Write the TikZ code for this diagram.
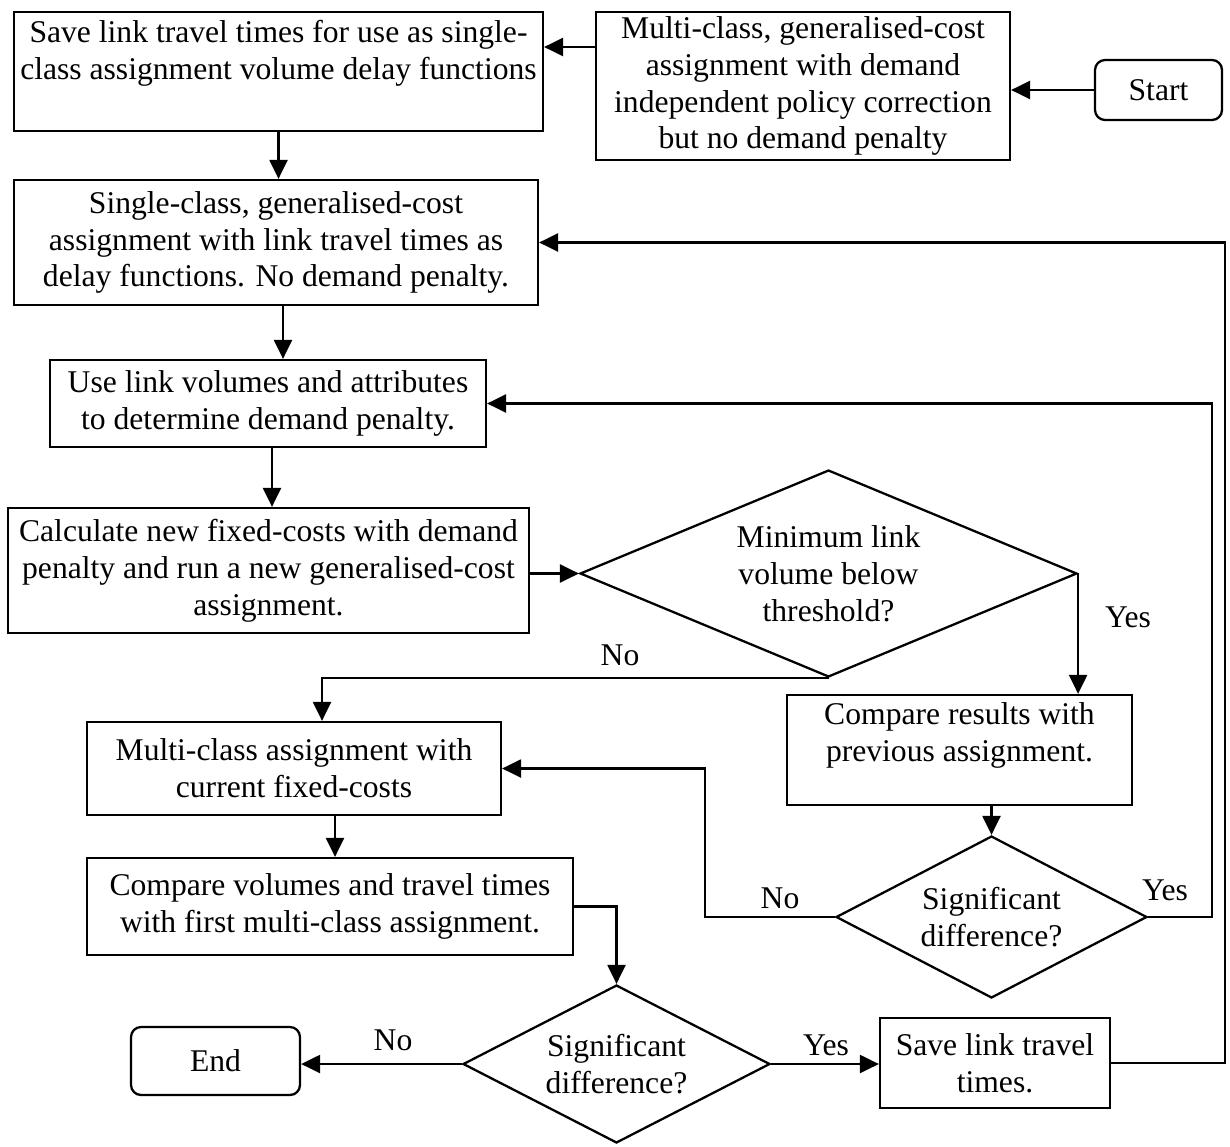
\documentclass[tikz,border=0pt]{standalone}
\usepackage{fontspec}
\setmainfont{Liberation Serif}
\usetikzlibrary{shapes.geometric,arrows.meta}

\begin{document}
\begin{tikzpicture}[x=0.02cm, y=-0.02cm,
    font=\fontsize{18}{21}\selectfont,
    every path/.style={line width=1.3pt},
    box/.style={draw, align=center, inner sep=0pt},
    term/.style={box, rounded corners=0.2cm},
    decision/.style={draw, shape=diamond, align=center, inner sep=0pt},
    arr/.style={-{Triangle[length=0.38cm, width=0.36cm]}}]
  \useasboundingbox (0,0) rectangle (1230,1146);

  \node[term] (start) at (1158.5,90) [minimum width=2.54cm, minimum height=1.2cm] {Start};
  \node[box] (multi) at (803,86) [minimum width=8.28cm, minimum height=2.96cm]
    {Multi-class, generalised-cost\\ assignment with demand\\ independent policy correction\\ but no demand penalty};
  \node[box] (save) at (278.5,71.5) [minimum width=10.58cm, minimum height=2.38cm]
    {Save link travel times for use as single-\\ class assignment volume delay functions\\[-3pt] \strut};
  \node[box] (single) at (276,242.5) [minimum width=10.48cm, minimum height=2.5cm]
    {Single-class, generalised-cost\\ assignment with link travel times as\\ delay functions. No demand penalty.};
  \node[box] (penalty) at (268,403.5) [minimum width=8.72cm, minimum height=1.74cm]
    {Use link volumes and attributes\\ to determine demand penalty.};
  \node[box] (fixed) at (268.5,570.5) [minimum width=10.42cm, minimum height=2.5cm]
    {Calculate new fixed-costs with demand\\ penalty and run a new generalised-cost\\ assignment.};
  \node[decision, aspect=2.4] (minlink) at (828.5,573.5) [minimum width=9.94cm, minimum height=4.14cm]
    {Minimum link\\ volume below\\ threshold?};
  \node[box] (prev) at (959.5,750) [minimum width=6.9cm, minimum height=2.2cm]
    {Compare results with\\ previous assignment.\\[-7pt] \strut};
  \node[decision, aspect=1.9] (diffa) at (991.5,917) [minimum width=6.22cm, minimum height=3.24cm]
    {Significant\\ difference?};
  \node[box] (current) at (294,768.5) [minimum width=8.28cm, minimum height=1.86cm]
    {Multi-class assignment with\\ current fixed-costs};
  \node[box] (first) at (330,906.5) [minimum width=9.72cm, minimum height=1.94cm]
    {Compare volumes and travel times\\ with first multi-class assignment.};
  \node[decision, aspect=1.9] (diffb) at (616.5,1064) [minimum width=6.14cm, minimum height=3.16cm]
    {Significant\\ difference?};
  \node[term] (end) at (215.5,1061) [minimum width=3.38cm, minimum height=1.36cm] {End};
  \node[box] (times) at (995,1063) [minimum width=4.6cm, minimum height=1.8cm]
    {Save link travel\\ times.};

  \draw[arr] (start.west) -- (start.west -| multi.east);
  \draw[arr] (multi.west |- 0,47) -- (save.east |- 0,47);
  \draw[arr] (save.south) -- (save.south |- single.north);
  \draw[arr] (single.south -| 283,0) -- (penalty.north -| 283,0);
  \draw[arr] (penalty.south -| 272,0) -- (fixed.north -| 272,0);
  \draw[arr] (fixed.east |- minlink) -- (minlink.west);
  \draw[arr] (minlink.east) -- (minlink.east |- prev.north);
  \draw[arr] (minlink.south) -- (minlink.south -| 322,0) -- (current.north -| 322,0);
  \draw[arr] (prev.south -| diffa) -- (diffa.north);
  \draw[arr] (diffa.west) -- (diffa.west -| 705,0) |- (current.east);
  \draw[arr] (diffa.east) -- (diffa.east -| 1212,0) |- (penalty.east);
  \draw[arr] (current.south -| 335,0) -- (first.north -| 335,0);
  \draw[arr] (first.east) -| (diffb.north);
  \draw[arr] (diffb.west) -- (diffb.west -| end.east);
  \draw[arr] (diffb.east) -- (diffb.east -| times.west);
  \draw[arr] (times.east) -- (times.east -| 1225,0) |- (single.east);

  \node (yesa) at (1128,617) {Yes};
  \node (noa) at (620,655) {No};
  \node (nob) at (780,898) {No};
  \node (yesb) at (1165,890) {Yes};
  \node (noc) at (393,1040) {No};
  \node (yesc) at (826,1045) {Yes};
\end{tikzpicture}
\end{document}
